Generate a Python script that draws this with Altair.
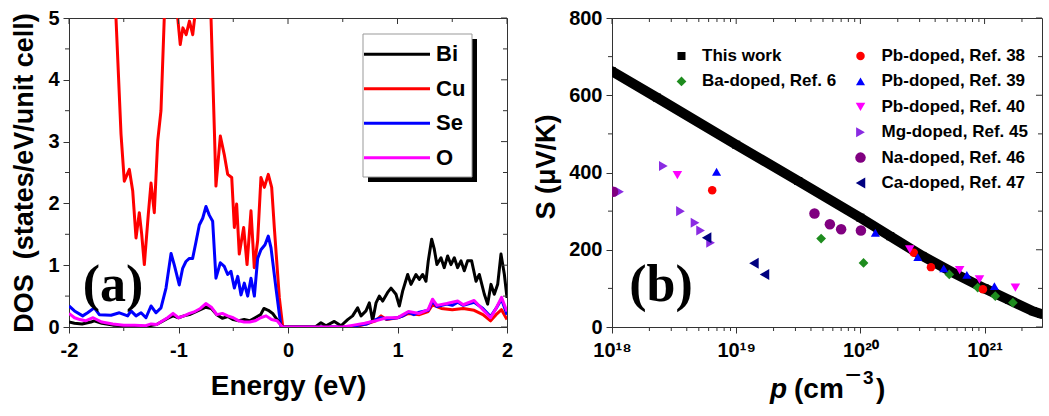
import altair as alt
import pandas as pd

FONT = "Liberation Sans, Arial, sans-serif"
SERIF = "Liberation Serif, Times New Roman, serif"
AXC = "#333333"

# ---------------- panel (a): DOS ----------------
dos_elements = ["Bi", "Cu", "Se", "O"]
dos_colors = ["#000000", "#FF0000", "#0000FF", "#FF00FF"]
draw_order = ["Cu", "Se", "Bi", "O"]

dos_bi = [(-2.0, 0.08), (-1.95, 0.06), (-1.88, 0.05), (-1.8, 0.08), (-1.77, 0.1), (-1.7, 0.06),
          (-1.6, 0.03), (-1.5, 0.02), (-1.4, 0.02), (-1.3, 0.01), (-1.2, 0.04), (-1.1, 0.14),
          (-1.05, 0.18), (-1.0, 0.15), (-0.95, 0.18), (-0.9, 0.2), (-0.8, 0.28), (-0.75, 0.32),
          (-0.7, 0.3), (-0.65, 0.2), (-0.6, 0.14), (-0.55, 0.17), (-0.5, 0.12), (-0.45, 0.1),
          (-0.4, 0.12), (-0.35, 0.1), (-0.3, 0.15), (-0.25, 0.2), (-0.22, 0.3), (-0.18, 0.27),
          (-0.14, 0.22), (-0.1, 0.12), (-0.05, 0.0), (0.0, 0.0), (0.25, 0.0), (0.301, 0.07),
          (0.347, 0.02), (0.423, 0.09), (0.484, 0.02), (0.545, 0.12), (0.59, 0.18), (0.636, 0.31),
          (0.667, 0.18), (0.712, 0.26), (0.743, 0.39), (0.773, 0.1), (0.804, 0.39), (0.834, 0.5),
          (0.865, 0.42), (0.91, 0.56), (0.941, 0.63), (0.986, 0.53), (1.017, 0.34), (1.047, 0.58),
          (1.093, 0.85), (1.123, 0.69), (1.169, 0.85), (1.199, 0.77), (1.23, 0.85), (1.26, 0.74),
          (1.281, 1.07), (1.312, 1.42), (1.336, 1.26), (1.36, 1.01), (1.397, 1.12), (1.427, 0.96),
          (1.458, 1.15), (1.488, 1.01), (1.519, 1.12), (1.549, 0.96), (1.58, 1.07), (1.61, 0.91),
          (1.64, 1.07), (1.677, 1.07), (1.717, 0.74), (1.747, 0.85), (1.793, 0.53), (1.823, 0.37),
          (1.854, 0.69), (1.884, 0.53), (1.915, 0.69), (1.945, 1.18), (1.976, 0.85), (2.0, 0.47)]

dos_cu = [(-2.0, 9.0), (-1.8, 8.0), (-1.65, 6.5), (-1.571, 5.0), (-1.525, 3.12), (-1.495, 2.36),
          (-1.449, 2.55), (-1.418, 2.2), (-1.388, 1.44), (-1.358, 1.85), (-1.336, 1.5), (-1.312, 1.01),
          (-1.276, 1.82), (-1.251, 2.33), (-1.221, 1.85), (-1.19, 3.01), (-1.16, 3.5), (-1.13, 5.0),
          (-1.1, 6.5), (-1.05, 6.0), (-1.007, 5.0), (-0.984, 4.57), (-0.96, 4.84), (-0.93, 4.73),
          (-0.9, 4.95), (-0.87, 4.73), (-0.84, 5.2), (-0.78, 6.0), (-0.703, 5.0), (-0.673, 3.22),
          (-0.658, 2.28), (-0.618, 3.09), (-0.582, 2.79), (-0.551, 2.47), (-0.514, 2.42), (-0.49, 1.61),
          (-0.469, 1.99), (-0.445, 1.18), (-0.405, 1.61), (-0.374, 1.01), (-0.338, 1.88), (-0.308, 0.96),
          (-0.277, 1.4), (-0.247, 2.42), (-0.216, 2.26), (-0.18, 2.47), (-0.149, 2.26), (-0.125, 1.61),
          (-0.079, 0.47), (-0.048, 0.0), (0.0, 0.0), (0.55, 0.0), (0.65, 0.02), (0.72, 0.05),
          (0.8, 0.1), (0.85, 0.18), (0.9, 0.12), (1.0, 0.15), (1.05, 0.18), (1.1, 0.22), (1.2, 0.2),
          (1.28, 0.25), (1.32, 0.36), (1.4, 0.3), (1.5, 0.28), (1.6, 0.3), (1.7, 0.27), (1.78, 0.2),
          (1.85, 0.1), (1.9, 0.2), (1.95, 0.28), (2.0, 0.12)]

dos_se = [(-2.0, 0.34), (-1.95, 0.26), (-1.875, 0.18), (-1.83, 0.23), (-1.769, 0.31), (-1.723, 0.2),
          (-1.616, 0.19), (-1.54, 0.23), (-1.464, 0.18), (-1.434, 0.26), (-1.388, 0.18), (-1.342, 0.23),
          (-1.297, 0.15), (-1.251, 0.34), (-1.205, 0.23), (-1.16, 0.31), (-1.114, 0.63), (-1.068, 1.19),
          (-1.038, 1.0), (-0.993, 0.68), (-0.962, 0.95), (-0.932, 1.06), (-0.901, 1.11), (-0.871, 1.11),
          (-0.84, 1.38), (-0.81, 1.65), (-0.779, 1.76), (-0.749, 1.95), (-0.719, 1.81), (-0.688, 1.71),
          (-0.658, 0.79), (-0.618, 1.04), (-0.582, 0.98), (-0.551, 0.85), (-0.521, 0.9), (-0.49, 0.63),
          (-0.459, 0.82), (-0.429, 0.52), (-0.399, 0.71), (-0.368, 0.5), (-0.338, 0.79), (-0.307, 0.5),
          (-0.277, 1.11), (-0.247, 1.25), (-0.21, 1.33), (-0.18, 1.47), (-0.155, 1.28), (-0.11, 0.63),
          (-0.064, 0.0), (0.0, 0.0), (0.55, 0.0), (0.65, 0.03), (0.72, 0.05), (0.8, 0.12), (0.85, 0.15),
          (0.9, 0.13), (1.0, 0.15), (1.05, 0.18), (1.1, 0.24), (1.15, 0.2), (1.2, 0.24), (1.28, 0.27),
          (1.32, 0.42), (1.36, 0.33), (1.45, 0.37), (1.5, 0.35), (1.55, 0.4), (1.6, 0.35), (1.7, 0.4),
          (1.78, 0.3), (1.85, 0.17), (1.9, 0.3), (1.95, 0.45), (2.0, 0.2)]

dos_o = [(-2.0, 0.22), (-1.95, 0.15), (-1.9, 0.12), (-1.85, 0.1), (-1.78, 0.15), (-1.7, 0.08),
         (-1.6, 0.05), (-1.5, 0.03), (-1.4, 0.03), (-1.3, 0.02), (-1.25, 0.05), (-1.2, 0.04),
         (-1.1, 0.15), (-1.05, 0.22), (-1.0, 0.15), (-0.95, 0.18), (-0.9, 0.22), (-0.85, 0.25),
         (-0.8, 0.3), (-0.75, 0.38), (-0.7, 0.32), (-0.65, 0.2), (-0.6, 0.22), (-0.55, 0.18),
         (-0.5, 0.15), (-0.45, 0.1), (-0.4, 0.08), (-0.35, 0.08), (-0.3, 0.1), (-0.25, 0.15),
         (-0.2, 0.18), (-0.15, 0.12), (-0.1, 0.1), (-0.05, 0.0), (0.0, 0.0), (0.5, 0.0), (0.6, 0.03),
         (0.7, 0.06), (0.8, 0.1), (0.9, 0.15), (1.0, 0.15), (1.05, 0.2), (1.1, 0.25), (1.2, 0.22),
         (1.28, 0.28), (1.32, 0.45), (1.36, 0.35), (1.45, 0.38), (1.55, 0.42), (1.6, 0.36), (1.7, 0.43),
         (1.78, 0.28), (1.85, 0.15), (1.9, 0.3), (1.95, 0.48), (2.0, 0.25)]

energy_major = [-2, -1, 0, 1, 2]
energy_minor = [-1.5, -0.5, 0.5, 1.5]
dos_major = [0, 1, 2, 3, 4, 5]
dos_minor = [0.5, 1.5, 2.5, 3.5, 4.5]

# ---------------- panel (b): Seebeck vs carrier concentration ----------------
this_work_p = [1e18, 2.3e18, 1e19, 3.16e19, 1e20, 1.74e20, 3.16e20, 5.62e20, 1e21, 1.58e21, 2.45e21, 2.85e21]
this_work_S = [662, 594, 472, 378, 283, 235, 184, 140, 100, 70, 41, 34]

series_names = ["This work", "Ba-doped, Ref. 6",
                "Pb-doped, Ref. 38", "Pb-doped, Ref. 39", "Pb-doped, Ref. 40",
                "Mg-doped, Ref. 45", "Na-doped, Ref. 46", "Ca-doped, Ref. 47"]
series_colors = ["#000000", "#1E8C1E", "#FF0000", "#0000FF", "#FF00FF", "#8A2BE2", "#800080", "#000080"]
series_shapes = ["square", "diamond", "circle", "triangle-up", "triangle-down",
                 "triangle-right", "circle", "triangle-left"]
series_sizes = [64, 95, 72, 120, 120, 120, 72, 120]

ba6_p = [4.83e19, 1.06e20, 5.2e20, 8.8e20, 1.22e21, 1.69e21]
ba6_S = [229, 166, 136, 102, 80, 63]
pb38_p = [6.41e18, 2.69e20, 3.7e20, 9.7e20]
pb38_S = [354, 192, 155, 98]
pb39_p = [6.95e18, 1.32e20, 2.9e20, 4.69e20, 7.2e20, 1.2e21]
pb39_S = [402, 244, 181, 152, 135, 106]
pb40_p = [3.36e18, 2.5e20, 6.3e20, 9.1e20, 1.77e21]
pb40_S = [393, 201, 147, 123, 102]
mg45_p = [1.15e18, 2.59e18, 3.56e18, 4.66e18, 5.17e18, 6.22e18]
mg45_S = [350, 417, 300, 270, 250, 218]
na46_p = [1.02e18, 4.27e19, 5.68e19, 7.0e19, 1.01e20]
na46_S = [350, 294, 266, 253, 250]
ca47_p = [5.78e18, 1.39e19, 1.69e19]
ca47_S = [231, 165, 136]

p_major = [1e18, 1e19, 1e20, 1e21]
p_labels = ["10¹⁸", "10¹⁹", "10²⁰", "10²¹"]
p_minor = [2e18, 3e18, 4e18, 5e18, 6e18, 7e18, 8e18, 9e18,
           2e19, 3e19, 4e19, 5e19, 6e19, 7e19, 8e19, 9e19,
           2e20, 3e20, 4e20, 5e20, 6e20, 7e20, 8e20, 9e20, 2e21]
s_major = [0, 200, 400, 600, 800]
s_minor = [100, 300, 500, 700]

W_A, W_B, H = 438, 430, 309

# ---------------- axes ----------------
x_axis_a = alt.Axis(values=energy_major, labelExpr="'' + datum.value", title="Energy (eV)",
                    titleFontSize=28, titleX=W_A / 2, titleY=67, titleBaseline="alphabetic",
                    titleAlign="center", labelFlush=False, labelOverlap=False)
y_axis_a = alt.Axis(values=dos_major, labelExpr="'' + datum.value",
                    title="DOS\u00a0\u00a0(states/eV/unit cell)", titleFontSize=27,
                    titleX=-45, titleY=H / 2, titleBaseline="middle", titleAngle=270,
                    titleAlign="center", labelFlush=False, labelOverlap=False)

label_expr_b = ("datum.value < 5e18 ? '{0}' : datum.value < 5e19 ? '{1}' : "
                "datum.value < 5e20 ? '{2}' : '{3}'").format(*p_labels)
x_axis_b = alt.Axis(values=p_major, labelExpr=label_expr_b, title="",
                    labelFlush=False, labelOverlap=False)
y_axis_b = alt.Axis(values=s_major, format="d", title="S (μV/K)", titleFontSize=27,
                    titleX=-66, titleY=148.5, titleBaseline="middle", titleAngle=270,
                    titleAlign="center", labelFlush=False, labelOverlap=False)

xa = alt.Scale(domain=[-2, 2], nice=False, zero=False)
ya = alt.Scale(domain=[0, 5], nice=False)
xb = alt.Scale(type="log", domain=[1e18, 2.9e21], nice=False)
yb = alt.Scale(domain=[0, 800], nice=False)


# ---------------- helpers ----------------
def xticks(vals, scale, axis, y0, y1):
    return alt.Chart(pd.DataFrame({"v": vals})).mark_rule(color=AXC, strokeWidth=1).encode(
        x=alt.X("v:Q", scale=scale, axis=axis), y=alt.value(y0), y2=alt.value(y1))


def yticks(vals, scale, axis, x0, x1):
    return alt.Chart(pd.DataFrame({"v": vals})).mark_rule(color=AXC, strokeWidth=1).encode(
        y=alt.Y("v:Q", scale=scale, axis=axis), x=alt.value(x0), x2=alt.value(x1))


def label(text, x, y, size, font=FONT, style="normal", weight="bold", align="center"):
    return alt.Chart(pd.DataFrame({"t": [text]})).mark_text(
        font=font, fontSize=size, fontWeight=weight, fontStyle=style, align=align,
        baseline="alphabetic", color="black").encode(
        x=alt.value(x), y=alt.value(y), text="t:N")


one = pd.DataFrame({"d": [0]})

# ---------------- panel (a) ----------------
rows = []
for name, pairs in [("Bi", dos_bi), ("Cu", dos_cu), ("Se", dos_se), ("O", dos_o)]:
    for e, d in pairs:
        rows.append({"elem": name, "E": e, "DOS": d})
dos_df = pd.DataFrame(rows)

legend_a = alt.Legend(orient="none", legendX=293.5, legendY=25.3, title=None,
                      symbolType="stroke", symbolSize=4356, symbolStrokeWidth=3, clipHeight=22,
                      labelFontSize=22, labelFont=FONT, labelFontWeight="bold", labelColor="black",
                      labelOffset=4.5, rowPadding=12.5, padding=0)
color_a = alt.Color("elem:N", scale=alt.Scale(domain=dos_elements, range=dos_colors), legend=legend_a)

lines_a = [
    alt.Chart(dos_df).transform_filter(alt.datum.elem == n).mark_line(
        clip=True, strokeWidth=3, strokeJoin="round").encode(
        x=alt.X("E:Q", scale=xa, axis=x_axis_a),
        y=alt.Y("DOS:Q", scale=ya, axis=y_axis_a),
        color=color_a)
    for n in draw_order
]

shadow_a = alt.Chart(one).mark_rect(color="black").encode(
    x=alt.value(299), x2=alt.value(408), y=alt.value(21), y2=alt.value(164))
box_a = alt.Chart(one).mark_rect(fill="white", stroke="#999999", strokeWidth=1).encode(
    x=alt.value(294), x2=alt.value(403), y=alt.value(16), y2=alt.value(159))

panel_a = alt.layer(
    *lines_a,
    shadow_a, box_a,
    xticks(energy_minor, xa, x_axis_a, H, H + 4),
    xticks(energy_major, xa, x_axis_a, 0, 6),
    xticks(energy_minor, xa, x_axis_a, 0, 4),
    yticks(dos_minor, ya, y_axis_a, 0, -4),
    yticks(dos_major, ya, y_axis_a, W_A, W_A - 6),
    yticks(dos_minor, ya, y_axis_a, W_A, W_A - 4),
    label("(a)", 44, 283, 52, font=SERIF),
).properties(width=W_A, height=H)

# ---------------- panel (b) ----------------
tw_df = pd.DataFrame({"p": this_work_p, "S": this_work_S})
line_b = alt.Chart(tw_df).mark_line(color="black", strokeWidth=10, clip=True, strokeCap="round").encode(
    x=alt.X("p:Q", scale=xb, axis=x_axis_b),
    y=alt.Y("S:Q", scale=yb, axis=y_axis_b))

sc_rows = []
for name, ps, ss in [("This work", this_work_p, this_work_S),
                     ("Ba-doped, Ref. 6", ba6_p, ba6_S),
                     ("Pb-doped, Ref. 38", pb38_p, pb38_S),
                     ("Pb-doped, Ref. 39", pb39_p, pb39_S),
                     ("Pb-doped, Ref. 40", pb40_p, pb40_S),
                     ("Mg-doped, Ref. 45", mg45_p, mg45_S),
                     ("Na-doped, Ref. 46", na46_p, na46_S),
                     ("Ca-doped, Ref. 47", ca47_p, ca47_S)]:
    for p, s in zip(ps, ss):
        sc_rows.append({"series": name, "p": p, "S": s})
sc_df = pd.DataFrame(sc_rows)


def point_group(names, lx, loff):
    idx = [series_names.index(n) for n in names]
    cols = [series_colors[i] for i in idx]
    shps = [series_shapes[i] for i in idx]
    szs = [series_sizes[i] for i in idx]
    leg = alt.Legend(orient="none", legendX=lx, legendY=29.5, title=None, symbolSize=70,
                     symbolStrokeWidth=0, labelFontSize=17, labelFont=FONT, labelFontWeight="bold",
                     labelColor="black", labelOffset=loff, rowPadding=7.4, padding=0,
                     labelLimit=400)
    return alt.Chart(sc_df).transform_filter(
        alt.FieldOneOfPredicate(field="series", oneOf=names)).mark_point(
        filled=True, opacity=1, clip=True).encode(
        x=alt.X("p:Q", scale=xb, axis=x_axis_b),
        y=alt.Y("S:Q", scale=yb, axis=y_axis_b),
        color=alt.Color("series:N", scale=alt.Scale(domain=names, range=cols), legend=leg),
        shape=alt.Shape("series:N", scale=alt.Scale(domain=names, range=shps), legend=leg),
        size=alt.Size("series:N", scale=alt.Scale(domain=names, range=szs), legend=None))


points_a = point_group(series_names[:2], 61, 12)
points_b = point_group(series_names[2:], 240, 12.5)

panel_b = alt.layer(
    line_b, points_a, points_b,
    xticks(p_minor, xb, x_axis_b, H, H + 4),
    xticks(p_major, xb, x_axis_b, 0, 6),
    xticks(p_minor, xb, x_axis_b, 0, 4),
    yticks(s_minor, yb, y_axis_b, 0, -4),
    yticks(s_major, yb, y_axis_b, W_B, W_B - 6),
    yticks(s_minor, yb, y_axis_b, W_B, W_B - 4),
    label("(b)", 49, 283, 52, font=SERIF),
    label("p", 158, 380, 28, style="italic", align="left"),
    label("(cm", 182, 380, 28, align="left"),
    label("\u2212", 233, 366, 28, weight="normal", align="left"),
    label("3", 251, 366, 19, align="left"),
    label(")", 264, 380, 28, align="left"),
).resolve_scale(color="independent", shape="independent", size="independent").properties(width=W_B, height=H)

chart = alt.hconcat(panel_a, panel_b, spacing=17).resolve_scale(
    color="independent", shape="independent", size="independent"
).properties(
    padding={"left": 9, "top": 7, "right": 0, "bottom": 0}
).configure_view(
    stroke=AXC, strokeWidth=1
).configure_axis(
    grid=False, domainColor=AXC, tickColor=AXC, tickSize=6, domainWidth=1, tickWidth=1,
    labelFont=FONT, labelFontSize=20, labelFontWeight="bold", labelColor="black",
    titleFont=FONT, titleFontWeight="bold", titleColor="black"
).configure_axisX(labelPadding=7).configure_axisY(labelPadding=4)

chart.save("out.html", embed_options={"renderer": "svg", "actions": False})
